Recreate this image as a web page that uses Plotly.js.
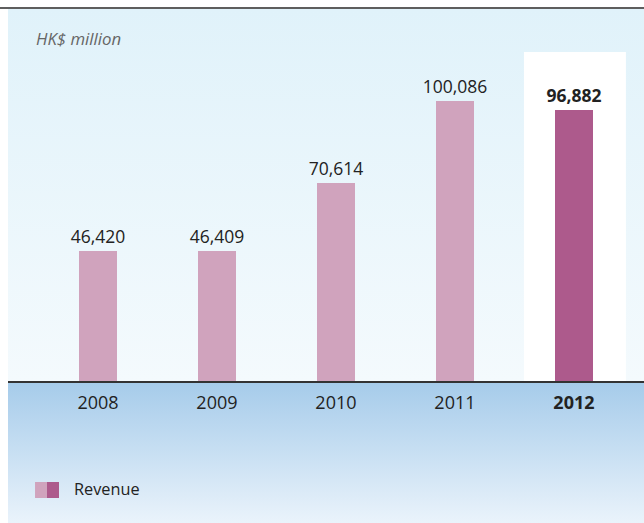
<!DOCTYPE html>
<html>
<head>
<meta charset="utf-8">
<script src="https://cdn.plot.ly/plotly-3.0.1.min.js"></script>
<style>
  html, body { margin: 0; padding: 0; background: #ffffff; }
  #chart {
    width: 644px; height: 523px;
    background:
      linear-gradient(#5e5e5e, #5e5e5e) 0 7px / 644px 2px no-repeat,
      linear-gradient(#e0f2fa, #f4fafd) 8px 9px / 636px 372px no-repeat,
      linear-gradient(#a5cbea, #eaf3fb) 8px 381px / 636px 142px no-repeat,
      #ffffff;
  }
</style>
</head>
<body>
<div id="chart"></div>
<script>
const years = ['2008', '2009', '2010', '2011', '2012'];
const revenue = [46420, 46409, 70614, 100086, 96882];
const highlightYear = '2012';
const unitLabel = 'HK$ million';
const seriesName = 'Revenue';

const lightColor = '#d0a3bd';
const darkColor = '#ad5a8c';
const FONT = '"Open Sans", "Noto Sans", sans-serif';

const xIdx = years.map((_, i) => i);
const hiIdx = years.indexOf(highlightYear);
const fmt = v => v.toLocaleString('en-US');
const barText = revenue.map((v, i) => i === hiIdx ? '<b>' + fmt(v) + '</b>' : fmt(v));
const barColors = years.map((_, i) => i === hiIdx ? darkColor : lightColor);
const tickText = years.map((y, i) => i === hiIdx ? '<b>' + y + '</b>' : y);

const trace = {
  type: 'bar',
  x: xIdx,
  y: revenue,
  width: 0.32,
  marker: { color: barColors, line: { width: 0 } },
  text: barText,
  textposition: 'outside',
  constraintext: 'none',
  textfont: { family: FONT, size: 17.5, color: '#222222' },
  cliponaxis: false,
  hoverinfo: 'skip',
  showlegend: false
};

const layout = {
  width: 644,
  height: 523,
  margin: { l: 8, r: 0, t: 9, b: 142 },
  paper_bgcolor: 'rgba(0,0,0,0)',
  plot_bgcolor: 'rgba(0,0,0,0)',
  showlegend: false,
  bargap: 0,
  xaxis: {
    range: [-0.756, 4.589],
    tickvals: xIdx,
    ticktext: tickText,
    tickfont: { family: FONT, size: 18, color: '#222222' },
    ticklabelstandoff: 5,
    showgrid: false,
    zeroline: false,
    showline: true,
    linecolor: '#333333',
    linewidth: 1.5,
    ticks: '',
    fixedrange: true
  },
  yaxis: {
    range: [0, 132970],
    showgrid: false,
    zeroline: false,
    showline: false,
    showticklabels: false,
    ticks: '',
    fixedrange: true
  },
  shapes: [
    { type: 'rect', layer: 'below', xref: 'x', yref: 'y',
      x0: 3.58, x1: 4.437, y0: 0, y1: 117600,
      fillcolor: '#ffffff', line: { width: 0 } },
    { type: 'rect', xref: 'paper', yref: 'paper',
      x0: 0.0425, x1: 0.0613, y0: -0.2715, y1: -0.3145,
      fillcolor: lightColor, line: { width: 0 } },
    { type: 'rect', xref: 'paper', yref: 'paper',
      x0: 0.0613, x1: 0.0802, y0: -0.2715, y1: -0.3145,
      fillcolor: darkColor, line: { width: 0 } }
  ],
  annotations: [
    { xref: 'paper', yref: 'paper', x: 0.041, y: 0.922,
      xanchor: 'left', yanchor: 'middle', showarrow: false,
      text: '<i>' + unitLabel + '</i>',
      font: { family: FONT, size: 16.8, color: '#666666' } },
    { xref: 'paper', yref: 'paper', x: 0.1006, y: -0.2903,
      xanchor: 'left', yanchor: 'middle', showarrow: false,
      text: seriesName,
      font: { family: FONT, size: 16.3, color: '#222222' } }
  ]
};

Plotly.newPlot('chart', [trace], layout, { displayModeBar: false, staticPlot: true });
</script>
</body>
</html>
